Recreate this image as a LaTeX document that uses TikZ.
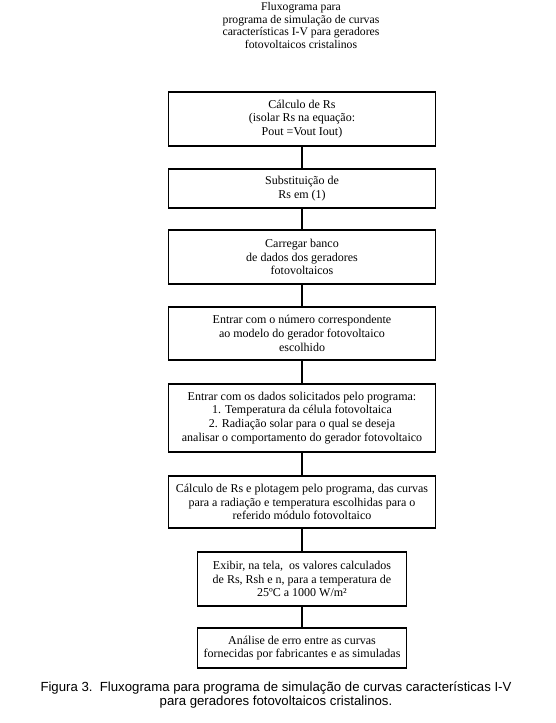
\documentclass[tikz,border=0pt]{standalone}
\usepackage{fontspec}
\setmainfont{Liberation Serif}
\newfontfamily\capfont{Liberation Sans}
\begin{document}
\begin{tikzpicture}[x=1pt,y=-1pt,
  box/.style={draw=black, line width=1.2pt, inner sep=0pt, align=center,
    font=\fontsize{12}{13.8}\selectfont, minimum width=267pt},
  smallbox/.style={box, minimum width=209pt},
  link/.style={draw=black, line width=1.2pt}]
\useasboundingbox (0,0) rectangle (556,723);
\node[align=center, font=\fontsize{11.7}{12.8}\selectfont] (title) at (301,25.5)
  {Fluxograma para\\programa de simulação de curvas\\características I-V para geradores\\fotovoltaicos cristalinos};
\node[box, minimum height=54pt] (b1) at (302,119)
  {Cálculo de Rs\\(isolar Rs na equação:\\Pout =Vout Iout)};
\node[box, minimum height=39pt] (b2) at (302,188.5)
  {Substituição de\\Rs em (1)};
\node[box, minimum height=54pt] (b3) at (302,257)
  {Carregar banco\\de dados dos geradores\\fotovoltaicos};
\node[box, minimum height=53pt] (b4) at (302,333.5)
  {Entrar com o número correspondente\\ao modelo do gerador fotovoltaico\\escolhido};
\node[box, minimum height=68pt] (b5) at (302,418)
  {Entrar com os dados solicitados pelo programa:\\1. Temperatura da célula fotovoltaica\\2. Radiação solar para o qual se deseja\\analisar o comportamento do gerador fotovoltaico};
\node[box, minimum height=52pt] (b6) at (302,502)
  {Cálculo de Rs e plotagem pelo programa, das curvas\\para a radiação e temperatura escolhidas para o\\referido módulo fotovoltaico};
\node[smallbox, minimum height=54pt] (b7) at (302,579)
  {Exibir, na tela,\ \ os valores calculados\\de Rs, Rsh e n, para a temperatura de\\25ºC a 1000 W/m²};
\node[smallbox, minimum height=40pt] (b8) at (302,648)
  {Análise de erro entre as curvas\\fornecidas por fabricantes e as simuladas};
\node[align=center, font=\capfont\fontsize{13.2}{13.6}\selectfont] (cap) at (276,695)
  {Figura 3.\ \ Fluxograma para programa de simulação de curvas características I-V\\para geradores fotovoltaicos cristalinos.};
\draw[link] (b1) -- (b2);
\draw[link] (b2) -- (b3);
\draw[link] (b3) -- (b4);
\draw[link] (b4) -- (b5);
\draw[link] (b5) -- (b6);
\draw[link] (b6) -- (b7);
\draw[link] (b7) -- (b8);
\end{tikzpicture}
\end{document}
